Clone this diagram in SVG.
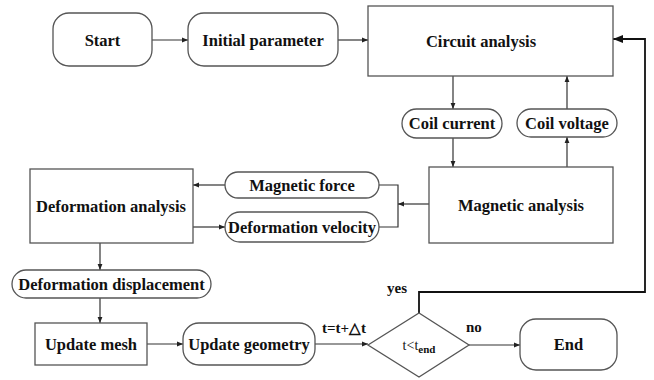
<svg xmlns="http://www.w3.org/2000/svg" width="654" height="380" viewBox="0 0 654 380">
<style>
.box{fill:#fff;stroke:#555;stroke-width:1.3}
.t{font-family:"Liberation Serif","Times New Roman",serif;font-weight:bold;font-size:16.5px;fill:#111;text-anchor:middle}
.c{fill:none;stroke:#333;stroke-width:1.2}
.lbl{font-family:"Liberation Serif","Times New Roman",serif;font-weight:bold;font-size:15px;fill:#111}
</style>
<defs>
<marker id="a" viewBox="0 0 10 10" refX="10" refY="5" markerWidth="6" markerHeight="6" orient="auto" markerUnits="userSpaceOnUse">
<path d="M0,1 L10,5 L0,9 z" fill="#222"/>
</marker>
<marker id="b" viewBox="0 0 10 10" refX="10" refY="5" markerWidth="10" markerHeight="10" orient="auto" markerUnits="userSpaceOnUse">
<path d="M0,1 L10,5 L0,9 z" fill="#111"/>
</marker>
</defs>
<rect width="654" height="380" fill="#fff"/>
<g id="connectors">
<path class="c" d="M152,40 H188" marker-end="url(#a)"/>
<path class="c" d="M338,40 H368" marker-end="url(#a)"/>
<path class="c" d="M453,76 V109" marker-end="url(#a)"/>
<path class="c" d="M567,109 V76" marker-end="url(#a)"/>
<path class="c" d="M453,138 V167" marker-end="url(#a)"/>
<path class="c" d="M567,167 V137" marker-end="url(#a)"/>
<path class="c" d="M429,204 H398" marker-end="url(#a)"/>
<path class="c" d="M379,185 H398 V227 H379"/>
<path class="c" d="M225,185 H193" marker-end="url(#a)"/>
<path class="c" d="M193,227 H225" marker-end="url(#a)"/>
<path class="c" d="M100,243 V270" marker-end="url(#a)"/>
<path class="c" d="M100,298 V323" marker-end="url(#a)"/>
<path class="c" d="M147,344 H183" marker-end="url(#a)"/>
<path class="c" d="M315,344 H368" marker-end="url(#a)"/>
<path class="c" d="M469,345 H520" marker-end="url(#a)"/>
<path d="M419,313 V292 H645 V39 H613" fill="none" stroke="#111" stroke-width="1.8" marker-end="url(#b)"/>
<text class="lbl" x="322" y="333" font-size="13">t=t+△t</text>
<text class="lbl" x="387" y="293">yes</text>
<text class="lbl" x="466" y="332">no</text>
</g>
<g id="start"><rect class="box" x="53" y="13" width="99" height="53" rx="16"/><text class="t" x="102.5" y="45.5">Start</text></g>
<g id="initial"><rect class="box" x="188" y="13" width="150" height="53" rx="16"/><text class="t" x="263" y="45.5">Initial parameter</text></g>
<g id="circuit"><rect class="box" x="368" y="6" width="245" height="70"/><text class="t" x="481" y="47">Circuit analysis</text></g>
<g id="coilcurrent"><rect class="box" x="402" y="109" width="100" height="29" rx="14.5"/><text class="t" x="452" y="129">Coil current</text></g>
<g id="coilvoltage"><rect class="box" x="517" y="109" width="100" height="28" rx="14"/><text class="t" x="567" y="128.5">Coil voltage</text></g>
<g id="magnetic"><rect class="box" x="429" y="167" width="184" height="76"/><text class="t" x="521" y="210.5">Magnetic analysis</text></g>
<g id="magforce"><rect class="box" x="225" y="172" width="154" height="26" rx="13"/><text class="t" x="302" y="190.5">Magnetic force</text></g>
<g id="defvel"><rect class="box" x="225" y="212" width="154" height="30" rx="15"/><text class="t" x="302" y="232.5">Deformation velocity</text></g>
<g id="defanalysis"><rect class="box" x="30" y="169" width="163" height="74"/><text class="t" x="111" y="212">Deformation analysis</text></g>
<g id="defdisp"><rect class="box" x="12" y="270" width="199" height="28" rx="14"/><text class="t" x="111.5" y="289.5">Deformation displacement</text></g>
<g id="updatemesh"><rect class="box" x="35" y="323" width="112" height="42"/><text class="t" x="91" y="349.5">Update mesh</text></g>
<g id="updategeom"><rect class="box" x="183" y="323" width="132" height="42" rx="16"/><text class="t" x="249" y="349.5">Update geometry</text></g>
<g id="decision"><polygon class="box" points="368,345 419,313 469,345 419,377"/><text x="419" y="350" font-family="Liberation Serif,serif" font-size="14" fill="#111" text-anchor="middle">t&lt;t<tspan font-size="11" font-weight="bold" dy="3">end</tspan></text></g>
<g id="end"><rect class="box" x="520" y="319" width="97" height="51" rx="16"/><text class="t" x="568.5" y="350">End</text></g>
</svg>
